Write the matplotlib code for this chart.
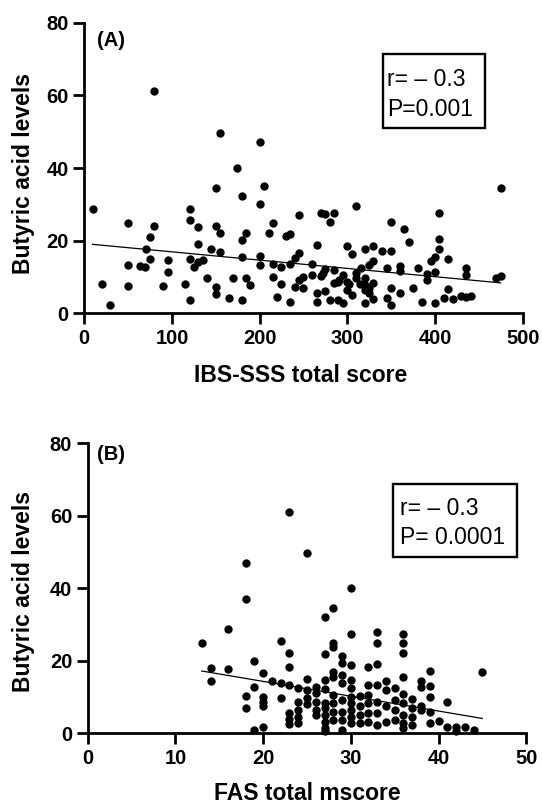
import matplotlib
matplotlib.use("Agg")
import matplotlib.pyplot as plt
from matplotlib.patches import Rectangle
import numpy as np

plt.rcParams['font.family'] = ['Liberation Sans', 'DejaVu Sans']

# ---------------- Panel A data (IBS-SSS total score vs butyric acid) ----------------
ibs_x = [9.5, 19.8, 29.7, 49.9, 49.9, 49.9, 63.7, 69.3, 70, 74.8, 74.8, 80, 80, 90.3,
         95, 95, 115.2, 120, 120, 120, 120, 125, 129.9, 129.9, 129.9, 135, 139.8, 144.9,
         149.7, 149.7, 149.7, 149.7, 154.8, 154.8, 154.8, 164.7, 169.8, 174.6, 179.3,
         179.3, 179.3, 179.3, 184.5, 184.5, 189.2, 199.9, 199.9, 199.9, 199.9, 205.1,
         210.2, 215, 215, 215, 220.1, 224.9, 224.9, 230, 234.8, 234.8, 234.8, 239.9,
         239.9, 245.1, 245.1, 245.1, 249.8, 249.8, 259.7, 259.7, 264.9, 264.9, 264.9,
         269.6, 269.6, 274.8, 274.8, 274.8, 279.9, 279.9, 284.7, 284.7, 284.7, 289.4,
         294.6, 294.6, 299.7, 299.7, 299.7, 304.8, 304.8, 310, 310, 310, 315.1, 319.9,
         319.9, 319.9, 319.9, 324.6, 324.6, 329.8, 329.8, 329.8, 329.8, 340.1, 344.8,
         344.8, 350, 350, 350, 350, 359.5, 359.5, 359.5, 364.6, 370.2, 374.5, 380.1,
         384.8, 390.4, 390.4, 395.1, 400.3, 400.3, 400.3, 405, 405, 405, 410.2, 415.3,
         415.3, 420, 429.9, 435.1, 435.1, 435.1, 440.7, 469.6, 474.8, 474.8,
         302, 315, 320, 324.6, 289, 291, 272]
ibs_y = [28.8, 8.1, 2.3, 24.9, 13.3, 7.5, 13.1, 12.8, 17.7, 21.1, 14.9, 24.1, 61.1, 7.6,
         14.6, 11.4, 8.1, 28.6, 25.6, 14.9, 3.7, 12.8, 23.8, 19.2, 14.2, 14.6, 9.8, 17.8,
         34.6, 24.0, 7.3, 5.3, 49.7, 22.2, 16.9, 4.3, 9.6, 40.0, 32.3, 20.1, 15.6, 3.7,
         22.2, 9.6, 7.8, 47.1, 30.0, 15.8, 13.3, 35.1, 22.2, 24.9, 13.7, 9.9, 4.6, 12.8,
         8.2, 21.3, 21.7, 3.2, 13.7, 15.1, 7.3, 27.0, 16.7, 9.2, 10.1, 7.1, 13.7, 10.5,
         18.9, 5.5, 3.2, 27.5, 10.3, 27.2, 12.1, 6.1, 25.0, 3.7, 27.7, 11.9, 8.4, 3.7,
         10.5, 2.7, 18.5, 8.7, 6.4, 16.3, 5.0, 29.6, 11.0, 9.6, 12.4, 17.6, 9.6, 6.4,
         2.9, 5.5, 13.3, 18.5, 14.5, 8.4, 3.8, 17.2, 12.5, 4.3, 25.0, 17.2, 7.1, 2.3,
         13.0, 5.5, 11.7, 23.1, 19.7, 7.1, 12.5, 3.2, 10.8, 9.2, 14.5, 15.6, 11.4, 2.9,
         27.5, 20.4, 17.6, 4.3, 14.9, 6.6, 3.8, 4.8, 12.5, 10.5, 4.6, 4.8, 9.6, 10.3, 34.6,
         8.0, 8.2, 7.9, 7.0, 8.5, 9.3, 11.2]
ibs_fit = (19.2, -0.0228)   # intercept, slope of the drawn regression line

# ---------------- Panel B data (FAS total score vs butyric acid) ----------------
fas_pts = {
    13: [24.8],
    14: [17.9, 14.3],
    16: [28.7, 17.7],
    18: [46.9, 37.0, 10.3, 6.9],
    19: [20.0, 12.9, 0.9],
    20: [16.7, 10.1, 8.7, 7.4, 1.8],
    21: [14.4],
    22: [25.6, 13.8, 9.8],
    23: [61.1, 22.1, 18.4, 13.3, 5.5, 3.9, 2.5],
    24: [12.4, 8.7, 6.4, 4.6, 2.9],
    25: [49.8, 14.9, 12.0, 9.7, 8.1],
    26: [12.9, 11.0, 8.7, 6.4, 5.1],
    27: [32.2, 21.9, 14.7, 12.1, 8.3, 6.9, 5.1, 3.2, 1.4, 0.5],
    28: [34.5, 23.9, 25.0, 17.0, 15.6, 10.6, 8.3, 6.0, 3.7],
    29: [21.3, 19.3, 16.1, 13.8, 9.2, 6.0, 3.7, 0.9],
    30: [40.0, 27.3, 18.9, 14.7, 12.4, 10.1, 8.3, 6.4, 4.6, 2.8],
    31: [10.3, 7.4, 5.1, 2.8],
    32: [18.4, 13.3, 10.6, 8.3, 5.5, 3.2],
    33: [28.0, 24.8, 19.0, 13.3, 8.7, 5.5, 2.3],
    34: [14.4, 12.0, 7.4, 3.2],
    35: [12.4, 9.2, 6.4, 3.7],
    36: [27.3, 24.8, 22.1, 15.6, 10.9, 8.3, 5.1, 2.9, 1.4],
    37: [9.4, 6.9, 4.6, 2.3],
    38: [14.3, 12.9, 7.4, 6.4],
    39: [17.2, 13.1, 10.1, 6.0, 2.8],
    40: [3.5],
    41: [8.7, 1.7],
    42: [1.7, 0.5],
    43: [1.7],
    44: [0.9],
    45: [17.0],
}
fas_x = [k for k, v in fas_pts.items() for _ in v]
fas_y = [y for v in fas_pts.values() for y in v]
fas_fit = (22.5, -0.409)

x_ticks_a = [0, 100, 200, 300, 400, 500]
x_ticks_b = [0, 10, 20, 30, 40, 50]
y_ticks = [0, 20, 40, 60, 80]

W, H = 542, 809
fig = plt.figure(figsize=(W / 100, H / 100), dpi=100)


def fx(px):
    return px / W


def fy(py):
    return 1 - py / H


axA = fig.add_axes([fx(84.3), fy(313.3), fx(438.4), 290.6 / H])
axB = fig.add_axes([fx(87.8), fy(733.3), fx(438.4), 290.0 / H])


def style(ax, xt, xlim, xlabel, xlab_pos, ylab_pos):
    ax.set_xlim(xlim)
    ax.set_ylim(0, 80)
    ax.set_xticks(xt)
    ax.set_yticks(y_ticks)
    for s in ['top', 'right']:
        ax.spines[s].set_visible(False)
    for s in ['left', 'bottom']:
        ax.spines[s].set_linewidth(2.0)
    ax.tick_params(axis='both', width=2.0, length=8, labelsize=14.5, pad=3.2)
    for lab in ax.get_xticklabels() + ax.get_yticklabels():
        lab.set_fontweight('bold')
    ax.set_xlabel(xlabel, fontsize=16.5, fontweight='bold')
    ax.xaxis.set_label_coords(*xlab_pos)
    ax.set_ylabel('Butyric acid levels', fontsize=16.5, fontweight='bold')
    ax.yaxis.set_label_coords(*ylab_pos)


def stats_box(x0, y0, x1, y1, tx, b1, b2, line1, line2):
    fig.patches.append(Rectangle((fx(x0), fy(y1)), fx(x1 - x0), (y1 - y0) / H,
                                 transform=fig.transFigure, fill=False,
                                 ec='black', lw=1.7))
    fig.text(fx(tx), fy(b1), line1, fontsize=16.5, va='baseline', ha='left')
    fig.text(fx(tx), fy(b2), line2, fontsize=16.5, va='baseline', ha='left')


axA.scatter(ibs_x, ibs_y, s=36, color='black', clip_on=False, zorder=3, linewidths=0)
xa = np.array([min(ibs_x), max(ibs_x)])
axA.plot(xa, ibs_fit[0] + ibs_fit[1] * xa, color='black', lw=0.9, zorder=2)
style(axA, x_ticks_a, (0, 500), 'IBS-SSS total score', (0.493, -0.175), (-0.112, 0.48))
fig.text(fx(97), fy(40), '(A)', fontsize=14.5, fontweight='bold', va='center', ha='left')
stats_box(383, 54, 485, 128, 387, 86, 116, 'r= \u2013 0.3', 'P=0.001')

axB.scatter(fas_x, fas_y, s=36, color='black', clip_on=False, zorder=3, linewidths=0)
xb = np.array([min(fas_x), max(fas_x)])
axB.plot(xb, fas_fit[0] + fas_fit[1] * xb, color='black', lw=0.9, zorder=2)
style(axB, x_ticks_b, (0, 50), 'FAS total mscore', (0.501, -0.168), (-0.12, 0.49))
fig.text(fx(97), fy(455), '(B)', fontsize=14.5, fontweight='bold', va='center', ha='left')
stats_box(393.3, 484, 516.5, 556.7, 399.5, 515, 544, 'r= \u2013 0.3', 'P= 0.0001')

fig.savefig('out.png', dpi=100)
